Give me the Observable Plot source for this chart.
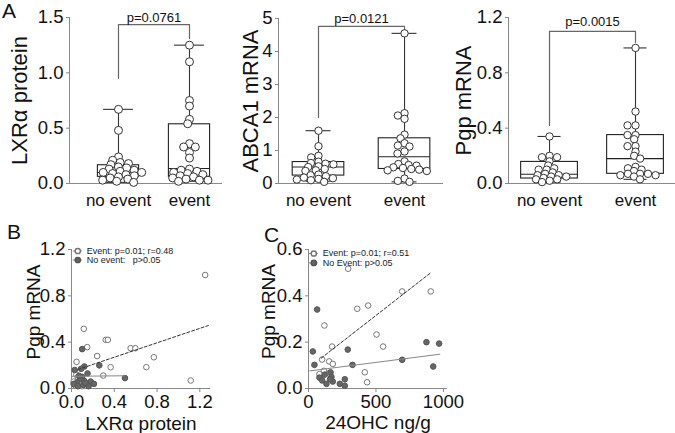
<!DOCTYPE html>
<html><head><meta charset="utf-8">
<script src="https://cdn.jsdelivr.net/npm/d3@7"></script>
<script src="https://cdn.jsdelivr.net/npm/@observablehq/plot@0.6"></script>
<style>
body{margin:0;background:#fff;}
#wrap{position:relative;width:675px;height:433px;overflow:hidden;font-family:'Liberation Sans',Arial,Helvetica,sans-serif;}
.pn{position:absolute;}
.lab{position:absolute;font-size:21px;color:#111;line-height:21px;}
</style></head>
<body><div id="wrap"></div>
<script>
// ---------- DATA ----------
const groups = ["no event", "event"];

// Panel A1: LXRα protein
const lxrNoEvent = [0.67,0.48,0.24,0.21,0.19,0.18,0.17,0.15,0.14,0.13,0.12,0.11,0.10,0.10,0.09,0.08,0.07,0.06,0.05,0.04,0.03,0.02,0.01];
const lxrEvent   = [1.25,1.10,0.75,0.70,0.58,0.54,0.36,0.33,0.33,0.28,0.23,0.13,0.12,0.11,0.10,0.09,0.08,0.07,0.06,0.05,0.04,0.03,0.03,0.02];
const lxrStats   = [{min:0.01,q1:0.06,med:0.10,q3:0.165,max:0.67},{min:0.02,q1:0.06,med:0.135,q3:0.535,max:1.25}];
const lxrBracket = [0.95,1.436,1.31];
const lxrP = "p=0.0761";

// Panel A2: ABCA1 mRNA
const abcaNoEvent = [1.60,1.13,0.84,0.79,0.66,0.62,0.60,0.58,0.52,0.50,0.44,0.40,0.38,0.27,0.25,0.22,0.18,0.16,0.14,0.12,0.10,0.05];
const abcaEvent   = [4.55,2.13,2.06,1.96,1.48,1.37,1.22,1.15,1.12,0.97,0.91,0.67,0.59,0.56,0.54,0.49,0.47,0.44,0.42,0.40,0.38,0.15,0.08,0.05];
const abcaStats   = [{min:0.07,q1:0.24,med:0.50,q3:0.65,max:1.60},{min:0.05,q1:0.44,med:0.81,q3:1.37,max:4.55}];
const abcaBracket = [2.0,4.76,4.55];
const abcaP = "p=0.0121";

// Panel A3: Pgp mRNA
const pgpNoEvent = [0.34,0.20,0.19,0.19,0.16,0.13,0.11,0.10,0.10,0.08,0.07,0.06,0.06,0.05,0.05,0.04,0.03,0.03,0.02,0.01];
const pgpEvent   = [0.98,0.52,0.42,0.42,0.35,0.35,0.32,0.27,0.27,0.23,0.20,0.18,0.12,0.11,0.10,0.09,0.07,0.07,0.07,0.06,0.06,0.05,0.03];
const pgpStats   = [{min:0.01,q1:0.036,med:0.067,q3:0.156,max:0.34},{min:0.03,q1:0.07,med:0.18,q3:0.35,max:0.98}];
const pgpBracket = [0.42,1.10,1.02];
const pgpP = "p=0.0015";

// Panel B: Pgp mRNA vs LXRα protein
const bEventX   = [1.25,0.115,0.147,0.32,0.34,0.24,0.047,0.553,0.597,0.77,0.70,0.366,0.297,1.115,0.045,0.08,0.02,0.06,0.10,0.03];
const bEventY   = [0.98,0.515,0.357,0.42,0.42,0.28,0.23,0.348,0.348,0.27,0.184,0.184,0.112,0.069,0.12,0.08,0.06,0.10,0.02,0.03];
const bNoEventX = [0.10,0.26,0.12,0.09,0.03,0.15,0.50,0.10,0.08,0.12,0.05,0.18,0.21,0.16,0.06,0.02,0.11,0.07,0.13];
const bNoEventY = [0.34,0.20,0.19,0.17,0.16,0.13,0.09,0.10,0.08,0.065,0.05,0.06,0.04,0.02,0.02,0.04,0.03,0.11,0.05];
const bFitEvent   = {x:[0.06,1.28], y:[0.164,0.544]};
const bFitNoEvent = {x:[0.0,0.50], y:[0.105,0.11]};
const bLegend = ["Event: p=0.01; r=0.48", "No event:\u00a0\u00a0\u00a0p>0.05"];

// Panel C: Pgp mRNA vs 24OHC
const cEventX   = [294,694,906,361,442,118,504,175,553,101,153,180,114,81,417,434,150];
const cEventY   = [0.517,0.419,0.419,0.344,0.358,0.272,0.233,0.181,0.181,0.125,0.117,0.106,0.076,0.062,0.07,0.027,0.065];
const cNoEventX = [64,32,44,291,326,874,968,694,924,81,101,133,163,170,180,232,269,269,120,160];
const cNoEventY = [0.341,0.16,0.102,0.168,0.102,0.2,0.194,0.124,0.095,0.047,0.035,0.02,0.07,0.05,0.03,0.02,0.04,0.012,0.06,0.04];
const cFitEvent   = {x:[94,911], y:[0.131,0.502]};
const cFitNoEvent = {x:[10,973], y:[0.076,0.148]};
const cLegend = ["Event: p=0.01; r=0.51", "No Event: p>0.05"];

// ---------- DRAWING ----------
const FONT = "'Liberation Sans', Arial, Helvetica, sans-serif";
const AX = "#888";
const wrap = document.getElementById("wrap");
function place(el, left, top){const d=document.createElement("div");d.className="pn";d.style.left=left+"px";d.style.top=top+"px";d.appendChild(el);wrap.appendChild(d);}
function label(t,left,top){const d=document.createElement("div");d.className="lab";d.textContent=t;d.style.left=left+"px";d.style.top=top+"px";wrap.appendChild(d);}

// Prism-like swarm: horizontal spacing of one diameter, rows may overlap vertically
function beeswarm(values, yPx, r, pxPerUnit, k){
  const pts = values.map((v,i)=>({i, y:yPx(v)*k, x:0}));
  const sorted = [...pts].sort((a,b)=>a.y-b.y);
  const placed = []; const d = 2*r + 0.6;
  for (const p of sorted){
    const c=[0];
    for (const q of placed){const dy=Math.abs(q.y-p.y); if(dy<d){const dx=Math.sqrt(d*d-dy*dy); c.push(q.x+dx,q.x-dx);}}
    c.sort((a,b)=>Math.abs(a)-Math.abs(b)||a-b);
    for (const cx of c){ if (placed.every(q=>(q.x-cx)**2+(q.y-p.y)**2>=d*d-1e-6)){p.x=cx;break;} }
    placed.push(p);
  }
  return pts.map(p=>p.x/pxPerUnit);
}

function boxPanel(o){
  const yPx = d3.scaleLinear(o.yDomain,[o.height-o.mb,o.mt]);
  const ppu = (o.width-o.ml-o.mr)/(o.xDomain[1]-o.xDomain[0]);
  const dots=[];
  o.values.forEach((vals,gi)=>{const off=beeswarm(vals,yPx,o.r,ppu,1.9); vals.forEach((v,j)=>dots.push({x:gi+off[j], y:v}));});
  const box = o.stats.map((s,i)=>({i,...s}));
  const b = o.bracket;
  const br = [{x:0,y:b[0]},{x:0,y:b[1]},{x:1,y:b[1]},{x:1,y:b[2]}];
  const bh=o.boxHalf, ch=o.capHalf;
  return Plot.plot({
    width:o.width, height:o.height, marginLeft:o.ml, marginRight:o.mr, marginTop:o.mt, marginBottom:o.mb,
    x:{domain:o.xDomain, axis:null}, y:{domain:o.yDomain, axis:null},
    style:{fontFamily:FONT, color:"#111", background:"white"},
    marks:[
      Plot.ruleY([o.yDomain[0]],{stroke:AX,strokeWidth:1}),
      Plot.ruleX([o.xDomain[0]],{stroke:AX,strokeWidth:1}),
      Plot.axisY({ticks:o.yTicks, tickFormat:o.yFmt, tickSize:3, tickPadding:3, fontSize:18.5, label:null, stroke:AX}),
      Plot.text([o.title],{text:d=>d, frameAnchor:"left", dx:o.titleDx, rotate:-90, textAnchor:"middle", lineAnchor:"middle", fontSize:22}),
      Plot.text(groups,{text:d=>d, x:(d,i)=>i, frameAnchor:"bottom", dy:17, textAnchor:"middle", lineAnchor:"middle", fontSize:17}),
      Plot.line(br,{x:"x",y:"y",stroke:"#666",strokeWidth:1.2}),
      Plot.text([o.p],{text:d=>d, x:()=>0.5, y:()=>b[1], dy:o.pDy, lineAnchor:"middle", fontSize:13}),
      Plot.ruleX(box,{x:"i",y1:"q3",y2:"max",stroke:"#333",strokeWidth:1.1}),
      Plot.ruleX(box,{x:"i",y1:"min",y2:"q1",stroke:"#333",strokeWidth:1.1}),
      Plot.ruleY(box,{y:"max",x1:d=>d.i-ch,x2:d=>d.i+ch,stroke:"#333",strokeWidth:1.1}),
      Plot.ruleY(box,{y:"min",x1:d=>d.i-ch,x2:d=>d.i+ch,stroke:"#333",strokeWidth:1.1}),
      Plot.rect(box,{x1:d=>d.i-bh,x2:d=>d.i+bh,y1:"q1",y2:"q3",fill:"none",stroke:"#222",strokeWidth:1.1}),
      Plot.ruleY(box,{y:"med",x1:d=>d.i-bh,x2:d=>d.i+bh,stroke:"#222",strokeWidth:1.1}),
      Plot.dot(dots,{x:"x",y:"y",r:o.r,fill:"white",stroke:"#333",strokeWidth:1})
    ]
  });
}

place(boxPanel({width:240,height:215,ml:69,mr:4,mt:17,mb:32,xDomain:[-0.690,1.662],yDomain:[0,1.5],yTicks:[0,0.5,1,1.5],yFmt:d3.format(".1f"),
  title:"LXRα protein",titleDx:-50,values:[lxrNoEvent,lxrEvent],stats:lxrStats,bracket:lxrBracket,p:lxrP,pDy:-7,r:4,boxHalf:0.29,capHalf:0.21}),0,0);
place(boxPanel({width:225,height:215,ml:56,mr:4,mt:18,mb:32,xDomain:[-0.465,1.453],yDomain:[0,5],yTicks:[0,1,2,3,4,5],yFmt:d3.format("d"),
  title:"ABCA1 mRNA",titleDx:-28,values:[abcaNoEvent,abcaEvent],stats:abcaStats,bracket:abcaBracket,p:abcaP,pDy:-8,r:3.7,boxHalf:0.30,capHalf:0.145}),222,0);
place(boxPanel({width:228,height:215,ml:61,mr:0,mt:17,mb:32,xDomain:[-0.477,1.465],yDomain:[0,1.2],yTicks:[0,0.4,0.8,1.2],yFmt:d3.format(".1f"),
  title:"Pgp mRNA",titleDx:-45,values:[pgpNoEvent,pgpEvent],stats:pgpStats,bracket:pgpBracket,p:pgpP,pDy:-10,r:3.7,boxHalf:0.33,capHalf:0.134}),447,0);

function scatterPanel(o){
  const ev = o.ex.map((x,i)=>({x, y:o.ey[i]}));
  const ne = o.nx.map((x,i)=>({x, y:o.ny[i]}));
  const fe = o.fe.x.map((x,i)=>({x, y:o.fe.y[i]}));
  const fn = o.fn.x.map((x,i)=>({x, y:o.fn.y[i]}));
  // legend symbol positions: pixel offsets from the frame's top-left converted to data units
  const ppx = (o.width-o.ml-o.mr)/(o.xDomain[1]-o.xDomain[0]);
  const ppy = (o.height-o.mt-o.mb)/(o.yDomain[1]-o.yDomain[0]);
  const lg = o.legend.map((t,i)=>({t, i, cx:o.xDomain[0]+o.lgDx/ppx, hw:4.5/ppx, cy:o.yDomain[1]-(o.lgDy+i*o.lgStep)/ppy}));
  const legendMarks = [
    Plot.ruleY(lg,{y:"cy", x1:d=>d.cx-d.hw, x2:d=>d.cx+d.hw, stroke:"#888", strokeWidth:1}),
    Plot.dot(lg,{x:"cx", y:"cy", r:2.6, fill:d=>d.i===0?"white":"#666", stroke:d=>d.i===0?"#777":"#555"}),
    ...lg.map(d=>Plot.text([d.t],{text:e=>e, frameAnchor:"top-left", dx:o.lgDx+9, dy:o.lgDy+d.i*o.lgStep, textAnchor:"start", lineAnchor:"middle", fontSize:9, fill:"#222"}))
  ];
  return Plot.plot({
    width:o.width, height:o.height, marginLeft:o.ml, marginRight:o.mr, marginTop:o.mt, marginBottom:o.mb,
    x:{domain:o.xDomain, axis:null}, y:{domain:o.yDomain, axis:null},
    style:{fontFamily:FONT, color:"#111", background:"white"},
    marks:[
      Plot.ruleY([o.yDomain[0]],{stroke:AX}),
      Plot.ruleX([o.xDomain[0]],{stroke:AX}),
      Plot.axisY({ticks:o.yTicks, tickFormat:d3.format(".1f"), tickSize:3, tickPadding:3, fontSize:18.5, label:null, stroke:AX}),
      Plot.axisX({ticks:o.xTicks, tickFormat:o.xFmt, tickSize:4, tickPadding:2, fontSize:18.5, label:null, stroke:AX}),
      Plot.text([o.yTitle],{text:d=>d, frameAnchor:"left", dx:o.yTitleDx, dy:o.yTitleDy, rotate:-90, textAnchor:"middle", lineAnchor:"middle", fontSize:19}),
      Plot.text([o.xTitle],{text:d=>d, frameAnchor:"bottom", dy:o.xTitleDy, textAnchor:"middle", lineAnchor:"middle", fontSize:19}),
      Plot.dot(ev,{x:"x",y:"y",r:2.8,fill:"white",stroke:"#777",strokeWidth:1}),
      Plot.dot(ne,{x:"x",y:"y",r:2.8,fill:"#666",stroke:"#555",strokeWidth:1}),
      Plot.line(fn,{x:"x",y:"y",stroke:"#888",strokeWidth:1}),
      Plot.line(fe,{x:"x",y:"y",stroke:"#333",strokeWidth:1,strokeDasharray:"3,2"}),
      ...legendMarks
    ]
  });
}

place(scatterPanel({width:240,height:218,ml:71,mr:30,mt:34,mb:45,xDomain:[0,1.30],yDomain:[0,1.2],xTicks:[0,0.4,0.8,1.2],xFmt:d3.format(".1f"),yTicks:[0,0.4,0.8,1.2],
  ex:bEventX,ey:bEventY,nx:bNoEventX,ny:bNoEventY,fe:bFitEvent,fn:bFitNoEvent,legend:bLegend,lgDx:6.3,lgDy:1.5,lgStep:9,
  yTitle:"Pgp mRNA",yTitleDx:-38,yTitleDy:-7,xTitle:"LXRα protein",xTitleDy:35}),0,215);
place(scatterPanel({width:250,height:218,ml:68,mr:43,mt:34,mb:45,xDomain:[0,1030],yDomain:[0,0.6],xTicks:[0,500,1000],xFmt:d3.format("d"),yTicks:[0,0.2,0.4,0.6],
  ex:cEventX,ey:cEventY,nx:cNoEventX,ny:cNoEventY,fe:cFitEvent,fn:cFitNoEvent,legend:cLegend,lgDx:5.3,lgDy:4,lgStep:9.4,
  yTitle:"Pgp mRNA",yTitleDx:-40,yTitleDy:-7.5,xTitle:"24OHC ng/g",xTitleDy:34}),240,215);

label("A",2,0);
label("B",7,221);
label("C",264,224);
</script></body></html>
